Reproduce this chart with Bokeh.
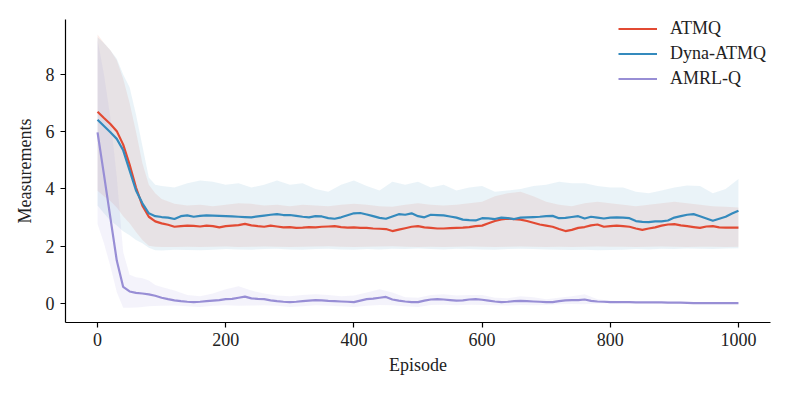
from bokeh.plotting import figure
from bokeh.models import Range1d, FixedTicker, Legend, LegendItem
from bokeh.embed import file_html
from bokeh.resources import INLINE

# ---------------- data ----------------
episodes = list(range(0, 1001, 10))

atmq = [6.70, 6.48, 6.27, 6.02, 5.55, 4.85, 4.05, 3.42, 3.03, 2.87,
        2.80, 2.75, 2.68, 2.70, 2.72, 2.71, 2.69, 2.72, 2.70, 2.66,
        2.70, 2.72, 2.74, 2.78, 2.73, 2.70, 2.68, 2.72, 2.69, 2.66,
        2.67, 2.64, 2.65, 2.67, 2.66, 2.68, 2.69, 2.70, 2.67, 2.65,
        2.66, 2.64, 2.64, 2.62, 2.61, 2.60, 2.53, 2.58, 2.63, 2.68,
        2.70, 2.66, 2.64, 2.62, 2.62, 2.63, 2.64, 2.65, 2.67, 2.70,
        2.72, 2.80, 2.88, 2.94, 2.96, 2.95, 2.93, 2.88, 2.82, 2.76,
        2.72, 2.68, 2.60, 2.53, 2.57, 2.64, 2.67, 2.73, 2.76, 2.68,
        2.70, 2.72, 2.70, 2.68, 2.62, 2.57, 2.62, 2.66, 2.72, 2.76,
        2.77, 2.73, 2.70, 2.67, 2.64, 2.69, 2.70, 2.66, 2.65, 2.65,
        2.65]

dyna_atmq = [6.42, 6.20, 5.98, 5.75, 5.35, 4.65, 3.95, 3.50, 3.15, 3.05,
             3.02, 3.00, 2.95, 3.05, 3.08, 3.03, 3.06, 3.08, 3.07, 3.06,
             3.05, 3.04, 3.03, 3.02, 3.01, 3.04, 3.07, 3.10, 3.12, 3.09,
             3.09, 3.06, 3.03, 3.01, 3.05, 3.04, 2.98, 2.96, 3.01, 3.08,
             3.15, 3.16, 3.11, 3.05, 2.99, 2.96, 3.04, 3.12, 3.10, 3.15,
             3.05, 3.01, 3.10, 3.09, 3.08, 3.04, 3.00, 2.93, 2.91, 2.90,
             2.98, 2.97, 2.95, 3.00, 2.98, 2.95, 3.00, 3.01, 3.02, 3.03,
             3.05, 3.06, 2.98, 2.99, 3.02, 3.05, 2.97, 3.03, 3.00, 2.97,
             3.00, 3.01, 3.00, 2.98, 2.88, 2.85, 2.84, 2.87, 2.87, 2.90,
             3.00, 3.05, 3.10, 3.12, 3.05, 2.97, 2.89, 2.96, 3.03, 3.14,
             3.24]

amrl_q = [5.98, 4.50, 3.00, 1.50, 0.58, 0.42, 0.37, 0.35, 0.32, 0.27,
          0.20, 0.15, 0.11, 0.08, 0.06, 0.05, 0.06, 0.08, 0.10, 0.12,
          0.15, 0.16, 0.20, 0.24, 0.18, 0.16, 0.15, 0.11, 0.08, 0.06,
          0.05, 0.06, 0.08, 0.10, 0.12, 0.11, 0.09, 0.08, 0.07, 0.06,
          0.05, 0.10, 0.15, 0.17, 0.20, 0.23, 0.14, 0.10, 0.07, 0.05,
          0.05, 0.10, 0.14, 0.15, 0.14, 0.12, 0.10, 0.11, 0.14, 0.15,
          0.13, 0.10, 0.07, 0.05, 0.06, 0.08, 0.09, 0.08, 0.07, 0.06,
          0.05, 0.05, 0.08, 0.11, 0.12, 0.12, 0.14, 0.09, 0.07, 0.06,
          0.05, 0.05, 0.05, 0.05, 0.04, 0.04, 0.04, 0.04, 0.04, 0.03,
          0.03, 0.03, 0.02, 0.01, 0.01, 0.01, 0.01, 0.01, 0.01, 0.01,
          0.01]

band_episodes = list(range(0, 100, 10)) + list(range(100, 1001, 20))

atmq_hi = [9.40, 9.10, 8.85, 8.50, 7.85, 7.00, 6.00, 4.90, 4.15, 3.85,
           3.65, 3.48, 3.42, 3.45, 3.40, 3.45, 3.50, 3.48, 3.42, 3.45,
           3.40, 3.45, 3.42, 3.40, 3.45, 3.48, 3.45, 3.40, 3.38, 3.45,
           3.50, 3.45, 3.42, 3.45, 3.50, 3.55, 3.75, 3.85, 3.90, 3.75,
           3.55, 3.45, 3.40, 3.50, 3.55, 3.50, 3.45, 3.40, 3.45, 3.50,
           3.55, 3.50, 3.45, 3.40, 3.38, 3.35]
atmq_lo = [3.94, 3.75, 3.58, 3.35, 3.05, 2.80, 2.50, 2.22, 2.02, 1.98,
           1.97, 1.97, 1.98, 1.97, 1.98, 1.99, 1.97, 1.98, 1.99, 1.98,
           1.97, 1.98, 1.99, 2.00, 1.98, 1.97, 1.98, 1.99, 2.00, 1.98,
           1.97, 1.98, 1.97, 1.98, 1.99, 1.98, 1.97, 1.98, 1.99, 1.98,
           1.97, 1.98, 1.97, 1.98, 1.99, 1.98, 1.98, 1.97, 1.98, 1.99,
           1.98, 1.97, 1.98, 1.98, 1.97, 1.98]

dyna_hi = [9.30, 9.10, 8.85, 8.55, 8.00, 7.55, 6.60, 5.50, 4.40, 4.15,
           4.10, 4.05, 4.20, 4.30, 4.25, 4.15, 4.20, 4.05, 4.15, 4.30,
           4.15, 4.20, 4.00, 3.90, 4.15, 4.30, 4.10, 3.95, 4.25, 4.15,
           4.25, 4.05, 4.15, 3.95, 4.05, 4.10, 3.90, 3.95, 4.00, 4.10,
           4.15, 4.25, 4.20, 4.20, 4.10, 4.05, 4.05, 3.90, 3.85, 3.95,
           4.05, 4.12, 4.10, 3.85, 4.00, 4.35]
dyna_lo = [3.42, 3.15, 2.90, 2.72, 2.52, 2.38, 2.22, 2.10, 1.95, 1.86,
           1.85, 1.88, 1.87, 1.86, 1.88, 1.90, 1.89, 1.88, 1.90, 1.91,
           1.89, 1.88, 1.90, 1.91, 1.89, 1.88, 1.90, 1.89, 1.91, 1.90,
           1.92, 1.90, 1.89, 1.91, 1.90, 1.89, 1.88, 1.90, 1.91, 1.90,
           1.89, 1.88, 1.87, 1.88, 1.86, 1.87, 1.88, 1.90, 1.89, 1.91,
           1.90, 1.92, 1.91, 1.90, 1.92, 1.93]

amrl_hi = [9.20, 8.00, 6.50, 4.40, 1.80, 1.00, 0.92, 0.88, 0.80, 0.65,
           0.58, 0.45, 0.30, 0.25, 0.35, 0.50, 0.60, 0.45, 0.35, 0.28,
           0.25, 0.30, 0.32, 0.30, 0.25, 0.28, 0.38, 0.50, 0.38, 0.22,
           0.20, 0.30, 0.32, 0.28, 0.30, 0.30, 0.20, 0.18, 0.25, 0.22,
           0.15, 0.20, 0.25, 0.32, 0.15, 0.10, 0.08, 0.07, 0.07, 0.06,
           0.05, 0.04, 0.03, 0.02, 0.02, 0.02]
amrl_lo = [2.78, 2.10, 1.30, 0.40, -0.15, -0.15, -0.14, -0.12, -0.10, -0.09,
           -0.08, -0.07, -0.10, -0.12, -0.08, -0.06, -0.08, -0.07, -0.06, -0.08,
           -0.12, -0.10, -0.06, -0.08, -0.10, -0.12, -0.08, -0.05, -0.06, -0.10,
           -0.12, -0.05, -0.04, -0.06, -0.04, -0.05, -0.06, -0.07, -0.05, -0.06,
           -0.05, -0.03, -0.02, -0.03, 0.00, 0.01, 0.02, 0.02, 0.02, 0.01,
           0.01, 0.00, 0.00, 0.00, 0.00, 0.00]

x_ticks = [0, 200, 400, 600, 800, 1000]
y_ticks = [0, 2, 4, 6, 8]

labels = ["ATMQ", "Dyna-ATMQ", "AMRL-Q"]
colors = ["#E24A33", "#348ABD", "#988ED5"]

# ---------------- figure ----------------
FONT = "Liberation Serif"
p = figure(width=789, height=395, output_backend="svg", toolbar_location=None,
           x_range=Range1d(-50, 1050), y_range=Range1d(-0.664, 9.92),
           min_border_left=65, min_border_right=19, min_border_top=19,
           min_border_bottom=73)
p.outline_line_color = None
p.grid.visible = False
p.background_fill_color = "white"

bands = [(atmq_lo, atmq_hi), (dyna_lo, dyna_hi), (amrl_lo, amrl_hi)]
for (lo, hi), c in zip(bands, colors):
    p.varea(x=band_episodes, y1=lo, y2=hi, fill_color=c, fill_alpha=0.1)

renderers = []
for ys, c in zip([atmq, dyna_atmq, amrl_q], colors):
    r = p.line(episodes, ys, line_color=c, line_width=2.2)
    renderers.append(r)

legend = Legend(items=[LegendItem(label=l, renderers=[r]) for l, r in zip(labels, renderers)],
                location=(553, 233))
legend.background_fill_alpha = 0
legend.border_line_color = None
legend.padding = 0
legend.margin = 0
legend.spacing = 4
legend.label_height = 21
legend.glyph_height = 21
legend.glyph_width = 39
legend.label_standoff = 13
legend.label_text_font = FONT
legend.label_text_font_size = "18px"
legend.label_text_color = "#222222"
p.add_layout(legend, "center")

for ax in (p.xaxis, p.yaxis):
    ax.axis_line_width = 1.2
    ax.axis_line_color = "black"
    ax.major_tick_line_color = "black"
    ax.major_tick_line_width = 1.2
    ax.major_tick_in = 0
    ax.major_tick_out = 5
    ax.minor_tick_line_color = None
    ax.major_label_text_font = FONT
    ax.major_label_text_font_size = "18px"
    ax.major_label_text_color = "#222222"
    ax.axis_label_text_font = FONT
    ax.axis_label_text_font_size = "18px"
    ax.axis_label_text_font_style = "normal"
    ax.axis_label_text_color = "#222222"

p.xaxis.ticker = FixedTicker(ticks=x_ticks)
p.yaxis.ticker = FixedTicker(ticks=y_ticks)
p.xaxis.axis_label = "Episode"
p.yaxis.axis_label = "Measurements"
p.xaxis.major_label_standoff = 5
p.yaxis.major_label_standoff = 6
p.xaxis.axis_label_standoff = 6
p.yaxis.axis_label_standoff = 8

open("out.html", "w").write(file_html(p, INLINE))
